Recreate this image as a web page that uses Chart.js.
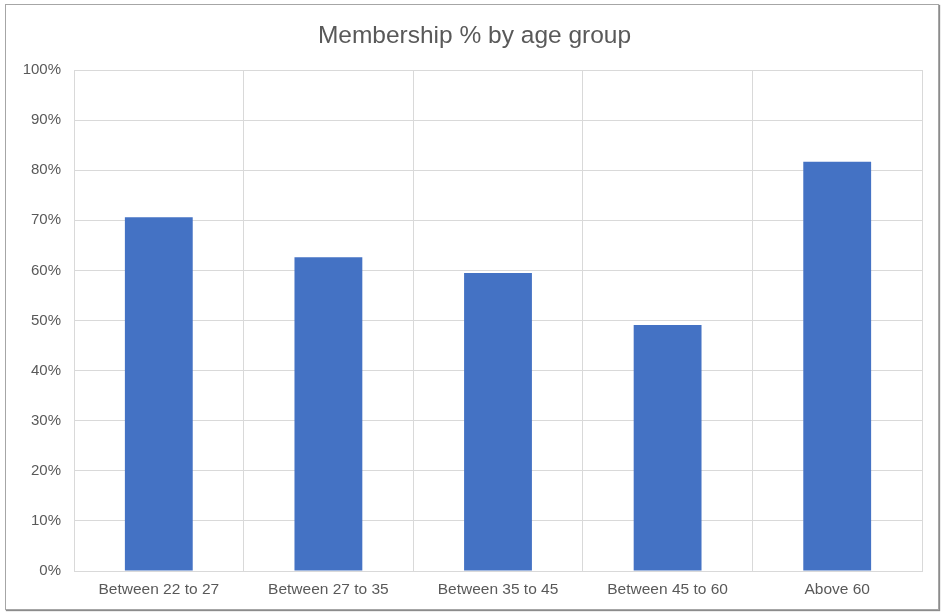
<!DOCTYPE html>
<html>
<head>
<meta charset="utf-8">
<script src="https://cdn.jsdelivr.net/npm/chart.js@4"></script>
<style>
  html, body { margin: 0; padding: 0; background: #fff; }
  #wrap { position: absolute; left: 0; top: 0; width: 943px; height: 613px; }
  #frame {
    position: absolute; left: 5px; top: 4px; width: 932px; height: 604px;
    border: 1px solid #a6a6a6; box-shadow: 1px 1px 1px #8c8c8c;
    pointer-events: none;
  }
  #title {
    position: absolute; left: 0; top: 21px; width: 949px; line-height: 29.4px;
    text-align: center; color: #595959;
    font: 24.5px 'Liberation Sans', Arial, sans-serif;
  }
</style>
</head>
<body>
<div id="wrap">
  <canvas id="membershipChart" width="943" height="613"></canvas>
  <div id="title">Membership % by age group</div>
  <div id="frame"></div>
</div>
<script>
const ageGroups = ['Between 22 to 27', 'Between 27 to 35', 'Between 35 to 45', 'Between 45 to 60', 'Above 60'];
const membershipPct = [70.6, 62.6, 59.5, 49.1, 81.7];
const yTicks = [0, 10, 20, 30, 40, 50, 60, 70, 80, 90, 100];

const textColor = '#595959';
const gridColor = '#d9d9d9';
const fontFamily = 'Liberation Sans, Arial, sans-serif';

const ctx = document.getElementById('membershipChart').getContext('2d');
const membershipChart = new Chart(ctx, {
    type: 'bar',
    data: {
        labels: ageGroups,
        datasets: [{
            label: 'Membership %',
            data: membershipPct,
            backgroundColor: '#4472C4',
            categoryPercentage: 1,
            barPercentage: 0.4
        }]
    },
    options: {
        responsive: false,
        animation: false,
        // title sits in an html div above (centred on the frame, not the plot)
        layout: { padding: { left: 0, right: 21, top: 70, bottom: 0 } },
        plugins: {
            legend: { display: false },
            tooltip: { enabled: false }
        },
        scales: {
            x: {
                grid: { color: gridColor, drawTicks: false },
                border: { color: gridColor },
                ticks: {
                    color: textColor,
                    padding: 9,
                    maxRotation: 0,
                    font: { family: fontFamily, size: 15.5 }
                },
                afterFit: function(scale) { scale.height = 42; }
            },
            y: {
                min: 0,
                max: 100,
                grid: { color: gridColor, drawTicks: false },
                border: { display: false },
                afterBuildTicks: function(scale) {
                    scale.ticks = yTicks.map(v => ({ value: v }));
                },
                ticks: {
                    color: textColor,
                    padding: 13,
                    font: { family: fontFamily, size: 15 },
                    callback: function(value) { return value + '%'; }
                },
                afterFit: function(scale) { scale.width = 74; }
            }
        }
    }
});
</script>
</body>
</html>
